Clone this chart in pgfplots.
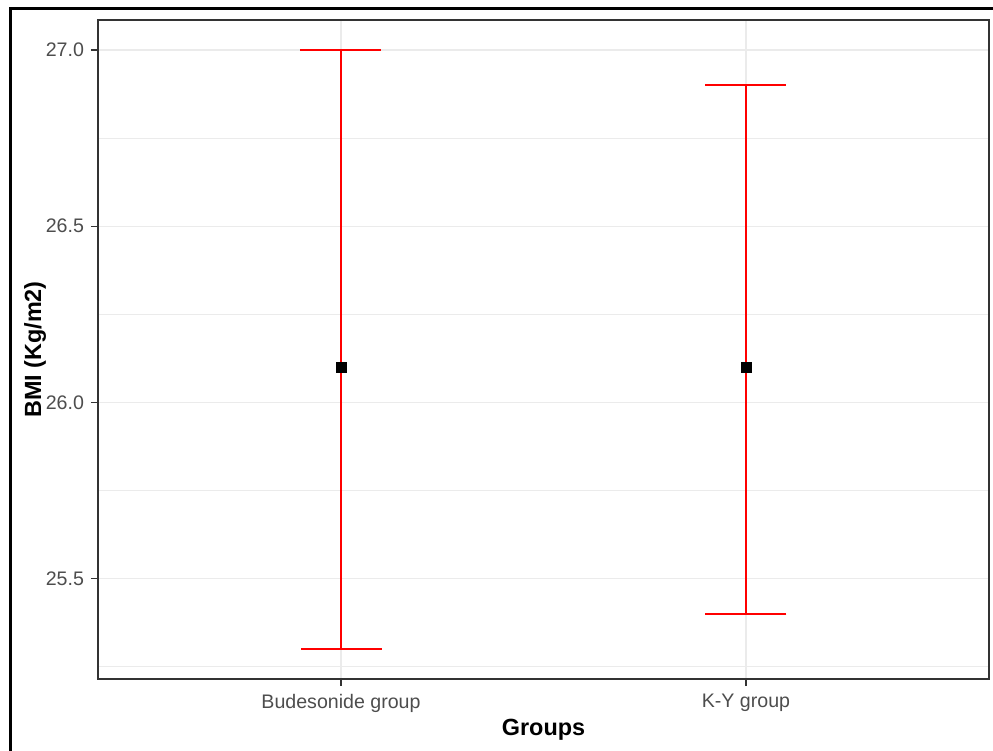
\documentclass[border=0pt]{standalone}
\usepackage{fontspec}
\setmainfont{Liberation Sans}
\usepackage{pgfplots}
\pgfplotsset{compat=1.18}
\definecolor{gridc}{HTML}{EBEBEB}
\definecolor{tickc}{HTML}{4D4D4D}
\definecolor{borderc}{HTML}{333333}
\begin{document}
\begin{tikzpicture}
\path[use as bounding box] (0,0) rectangle (496.5pt,375.5pt);
\draw[line width=1.4pt] (5.25pt,-5pt) -- (5.25pt,371.15pt) -- (505pt,371.15pt);
\begin{axis}[
  at={(49pt,36pt)}, anchor=south west,
  width=445.5pt, height=329.5pt, scale only axis,
  xmin=0.4, xmax=2.6, ymin=25.215, ymax=27.085,
  xtick={1,2}, xticklabels={Budesonide group, K-Y group},
  ytick={25.5,26,26.5,27},
  minor ytick={25.25,25.75,26.25,26.75},
  yticklabel={\pgfmathprintnumber[fixed,fixed zerofill,precision=1]{\tick}},
  /pgf/number format/assume math mode=true,
  grid=both,
  major grid style={gridc, line width=0.6pt},
  minor grid style={gridc, line width=0.35pt},
  minor tick length=0pt,
  tick align=outside,
  major tick length=3.5pt,
  tick style={borderc, line width=0.55pt},
  tick pos=left,
  axis line style={borderc, line width=0.7pt},
  ticklabel style={font=\fontsize{9.8}{11}\selectfont, text=tickc},
  xticklabel style={yshift=-0.5pt},
  xlabel={Groups}, ylabel={BMI (Kg/m2)},
  label style={font=\fontsize{11.7}{14}\selectfont\bfseries},
  xlabel style={at={(axis description cs:0.5,-0.085)}, anchor=base},
  ylabel style={at={(axis description cs:-0.0707,0.5)}, anchor=center},
]
\addplot[only marks, mark=square*, mark size=2.5pt, black,
  error bars/.cd, y dir=both, y explicit, error mark=|,
  error bar style={red, line width=0.8pt},
  error mark options={red, line width=0.8pt, mark size=20.25pt}]
  table[x=x, y=y, y error plus=ep, y error minus=em] {
x y ep em
1 26.1 0.9 0.8
2 26.1 0.8 0.7
};
\end{axis}
\end{tikzpicture}
\end{document}
